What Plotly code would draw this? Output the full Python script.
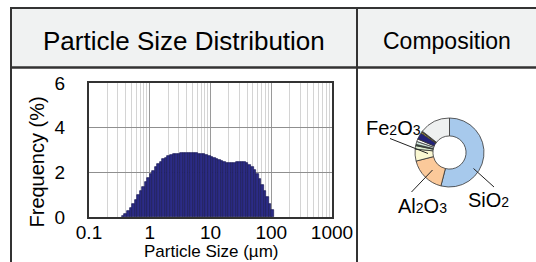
import plotly.graph_objects as go

# ---------------- data ----------------
size_um = [0.3652, 0.4020, 0.4425, 0.4870, 0.5361, 0.5900, 0.6494, 0.7149, 0.7868, 0.8660,
           0.9532, 1.0491, 1.1548, 1.2711, 1.3991, 1.5399, 1.6950, 1.8657, 2.0535, 2.2603,
           2.4879, 2.7384, 3.0141, 3.3176, 3.6517, 4.0194, 4.4241, 4.8697, 5.3600, 5.8998,
           6.4938, 7.1477, 7.8675, 8.6597, 9.5317, 10.491, 11.548, 12.711, 13.991, 15.399,
           16.950, 18.657, 20.535, 22.603, 24.879, 27.384, 30.141, 33.176, 36.517, 40.194,
           44.241, 48.697, 53.600, 58.998, 64.938, 71.477, 78.675, 86.597, 95.317, 104.91]
freq_pct = [0.05, 0.12, 0.25, 0.42, 0.58, 0.78, 0.98, 1.18, 1.36, 1.55,
            1.75, 1.93, 2.08, 2.22, 2.36, 2.48, 2.58, 2.66, 2.72, 2.76,
            2.80, 2.82, 2.84, 2.86, 2.87, 2.88, 2.88, 2.88, 2.87, 2.86,
            2.84, 2.82, 2.80, 2.77, 2.73, 2.69, 2.64, 2.59, 2.54, 2.49,
            2.45, 2.42, 2.41, 2.41, 2.43, 2.45, 2.47, 2.47, 2.45, 2.41,
            2.34, 2.24, 2.10, 1.92, 1.70, 1.45, 1.17, 0.88, 0.60, 0.30]

x_tick_vals = [0.1, 1, 10, 100, 1000]
x_tick_text = ["0.1", "1", "10", "100", "1000"]
x_minor_vals = [m * d for d in (0.1, 1, 10, 100) for m in range(2, 10)]
y_tick_vals = [0, 2, 4, 6]

comp_labels = ["SiO2", "Al2O3", "Fe2O3", "CaO", "MgO", "K2O", "Na2O", "TiO2", "MnO", "P2O5", "Other"]
comp_values = [54.0, 17.0, 5.6, 1.6, 0.6, 1.4, 1.2, 3.2, 0.6, 0.4, 14.4]
comp_colors = ["#a7c9ec", "#fbc99a", "#fbf8d2", "#dbeccf", "#2f5e3c", "#cfe6dc",
               "#ffffff", "#232379", "#e6cf3c", "#333333", "#eef0f0"]

header_titles = ["Particle Size Distribution", "Composition"]

# ---------------- geometry helpers ----------------
W, H = 536, 262
def px(x):
    return x / W
def py(y):
    return 1 - y / H

FONT = "Liberation Sans, Arial, sans-serif"
DARK = "#333333"

# bar extents (geometric bins) derived from the bin centres
half = 10 ** (1 / 48)
bar_w = [s * half - s / half for s in size_um]
bar_off = [s / half - s for s in size_um]

fig = go.Figure()

fig.add_trace(go.Bar(
    x=size_um, y=freq_pct, width=bar_w, offset=bar_off,
    marker=dict(color="#2c2c86", line=dict(color="#1b1b58", width=0.7)),
    xaxis="x", yaxis="y", showlegend=False, hoverinfo="x+y",
))

fig.add_trace(go.Pie(
    labels=comp_labels, values=comp_values, sort=False, direction="clockwise",
    rotation=0, hole=0.48, textinfo="none", showlegend=False,
    marker=dict(colors=comp_colors, line=dict(color=DARK, width=0.8)),
    domain=dict(x=[px(449.5 - 34.5), px(449.5 + 34.5)], y=[py(152.5 + 34.5), py(152.5 - 34.5)]),
))

fig.update_layout(
    width=W, height=H, margin=dict(l=0, r=0, t=0, b=0, pad=0, autoexpand=False),
    paper_bgcolor="white", plot_bgcolor="white",
    font=dict(family=FONT, color="black"),
    bargap=0,
    xaxis=dict(
        type="log", range=[-1, 3], domain=[px(89), px(332)], anchor="y",
        tickmode="array", tickvals=x_tick_vals, ticktext=x_tick_text,
        tickfont=dict(size=19, family=FONT, color="black"),
        showgrid=True, gridcolor="#9a9a9a", gridwidth=1.2,
        minor=dict(tickmode="array", tickvals=x_minor_vals, showgrid=True,
                   gridcolor="#d4d4d4", gridwidth=1.3, ticks=""),
        showline=True, linecolor=DARK, linewidth=2, mirror=True,
        ticks="", ticklabelstandoff=-3, zeroline=False, automargin=False,
    ),
    yaxis=dict(
        range=[0, 6], domain=[py(217), py(83)], anchor="x",
        tickmode="array", tickvals=y_tick_vals,
        tickfont=dict(size=19, family=FONT, color="black"),
        showgrid=True, gridcolor="#8f8f8f", gridwidth=1.2,
        showline=True, linecolor=DARK, linewidth=2, mirror=True,
        ticks="", ticklabelstandoff=18, zeroline=False, automargin=False,
    ),
)

shapes = [
    # header background
    dict(type="rect", xref="paper", yref="paper", x0=px(11), x1=px(536), y0=py(67), y1=py(8),
         fillcolor="#f0f2f2", line=dict(width=0), layer="below"),
    # borders
    dict(type="line", xref="paper", yref="paper", x0=px(11), x1=px(536), y0=py(8), y1=py(8),
         line=dict(color=DARK, width=2)),
    dict(type="line", xref="paper", yref="paper", x0=px(11), x1=px(536), y0=py(67.5), y1=py(67.5),
         line=dict(color=DARK, width=2.5)),
    dict(type="line", xref="paper", yref="paper", x0=px(11), x1=px(11), y0=py(7), y1=py(262),
         line=dict(color=DARK, width=2)),
    dict(type="line", xref="paper", yref="paper", x0=px(357), x1=px(357), y0=py(7), y1=py(262),
         line=dict(color=DARK, width=2)),
    # pie leader lines
    dict(type="line", xref="paper", yref="paper", x0=px(390), x1=px(428), y0=py(138.5), y1=py(153.5),
         line=dict(color="#222", width=1)),
    dict(type="line", xref="paper", yref="paper", x0=px(411.5), x1=px(432.5), y0=py(192), y1=py(170),
         line=dict(color="#222", width=1)),
    dict(type="line", xref="paper", yref="paper", x0=px(494), x1=px(473.5), y0=py(187), y1=py(168.5),
         line=dict(color="#222", width=1)),
]
fig.update_layout(shapes=shapes)

def sub(d):
    return f'<span style="font-size:14px">{d}</span>'

annotations = [
    dict(text=header_titles[0], x=px(184), y=py(41), font=dict(size=26, family=FONT)),
    dict(text=header_titles[1], x=px(446.5), y=py(41), font=dict(size=23, family=FONT)),
    dict(text="Frequency (%)", x=px(36), y=py(162.5), textangle=-90, font=dict(size=20, family=FONT)),
    dict(text="Particle Size (µm)", x=px(211), y=py(251.5), font=dict(size=17, family=FONT)),
    dict(text="Fe" + sub("2") + "O" + sub("3"), x=px(393), y=py(128), font=dict(size=20, family=FONT)),
    dict(text="Al" + sub("2") + "O" + sub("3"), x=px(422), y=py(206), font=dict(size=20, family=FONT)),
    dict(text="SiO" + sub("2"), x=px(488.5), y=py(200), font=dict(size=20, family=FONT)),
]
for a in annotations:
    a.update(xref="paper", yref="paper", showarrow=False, xanchor="center", yanchor="middle")
fig.update_layout(annotations=annotations)

# remove the browser's default 8px page margin so the figure sits at the window origin
fig.write_html(
    "out.html",
    config={"displayModeBar": False},
    post_script="document.body.style.margin='0';document.body.style.overflow='hidden';",
)
